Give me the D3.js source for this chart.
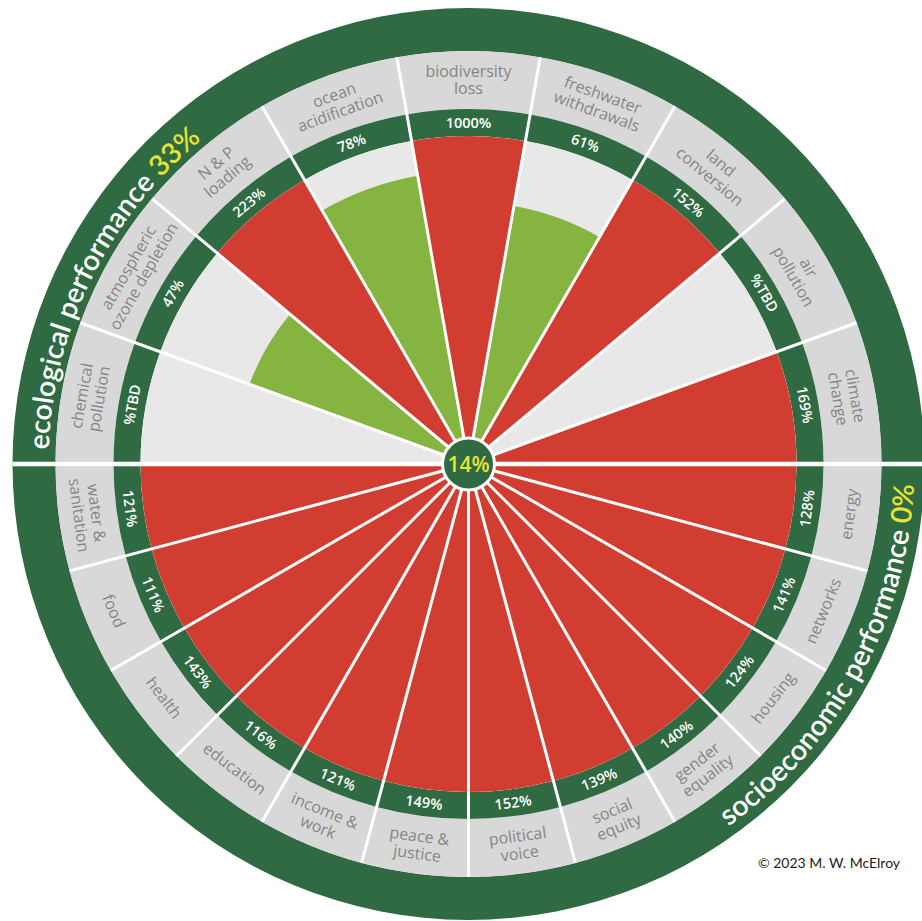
<!DOCTYPE html>
<html lang="en">
<head>
<meta charset="utf-8">
<title>Doughnut performance</title>
<script src="https://cdn.jsdelivr.net/npm/d3@7"></script>
<style>
  body { margin: 0; background: #fff; }
  svg { display: block; font-family: "Open Sans", sans-serif; }
</style>
</head>
<body>
<script>

// ecological ceiling, left to right across the top
var ecoCategories = ["chemical\npollution", "atmospheric\nozone depletion", "N & P\nloading", "ocean\nacidification",
                     "biodiversity\nloss", "freshwater\nwithdrawals", "land\nconversion", "air\npollution", "climate\nchange"];
var ecoValues = [null, 47, 223, 78, 1000, 61, 152, null, 169];   // null = %TBD

// social foundation, clockwise from the right
var socialCategories = ["energy", "networks", "housing", "gender\nequality", "social\nequity", "political\nvoice",
                        "peace &\njustice", "income &\nwork", "education", "health", "food", "water &\nsanitation"];
var socialValues = [128, 141, 124, 140, 139, 152, 149, 121, 116, 143, 111, 121];

var ecoTitle = "ecological performance", ecoScore = "33%";
var socialTitle = "socioeconomic performance", socialScore = "0%";
var overallScore = "14%";

var w = 922, h = 921, cx = 468.5, cy = 464;
var rCore = 26, rWedge = 328, rValue = 355, rLabel = 413, rOuter = 456;

var darkGreen = "#2f6a43", red = "#d13e31", lightGreen = "#85b441",
    bandGrey = "#d8d8d8", bgGrey = "#e8e8e8", labelGrey = "#858585", yellow = "#e9e334";

var svg = d3.select("body").append("svg").attr("width", w).attr("height", h);
var g = svg.append("g").attr("transform", "translate(" + cx + "," + cy + ")");

var rScale = d3.scaleSqrt().domain([0, 100]).range([rCore, rWedge]).clamp(true);
var ecoAngle = d3.scaleLinear().domain([0, ecoCategories.length]).range([-Math.PI / 2, Math.PI / 2]);
var socAngle = d3.scaleLinear().domain([0, socialCategories.length]).range([Math.PI / 2, 3 * Math.PI / 2]);

var eco = ecoCategories.map(function(c, i) {
  return {name: c, value: ecoValues[i], a0: ecoAngle(i), a1: ecoAngle(i + 1)};
});
var soc = socialCategories.map(function(c, i) {
  return {name: c, value: socialValues[i], a0: socAngle(i), a1: socAngle(i + 1)};
});
var segs = eco.concat(soc);

var arc = d3.arc();
function ring(d, r0, r1) {
  return arc({innerRadius: r0, outerRadius: r1, startAngle: d.a0, endAngle: d.a1});
}

// outer ring
g.append("path")
 .attr("d", arc({innerRadius: rLabel, outerRadius: rOuter, startAngle: 0, endAngle: 2 * Math.PI}))
 .attr("fill", darkGreen);

// label band, value band, background
g.selectAll("path.band").data(segs).enter().append("path")
 .attr("d", function(d) { return ring(d, rValue, rLabel); }).attr("fill", bandGrey);
g.selectAll("path.val").data(segs).enter().append("path")
 .attr("d", function(d) { return ring(d, rWedge, rValue); }).attr("fill", darkGreen);
g.selectAll("path.bg").data(segs).enter().append("path")
 .attr("d", function(d) { return ring(d, 0, rWedge); }).attr("fill", bgGrey);

// wedges
g.selectAll("path.wedge").data(segs.filter(function(d) { return d.value != null; })).enter().append("path")
 .attr("d", function(d) { return ring(d, 0, rScale(d.value)); })
 .attr("fill", function(d) { return d.value < 100 ? lightGreen : red; });

// separators
var bounds = d3.range(1, ecoCategories.length).map(ecoAngle)
  .concat(d3.range(1, socialCategories.length).map(socAngle));
g.selectAll("line.sep").data(bounds).enter().append("line")
 .attr("x1", 0).attr("y1", 0)
 .attr("x2", function(a) { return rLabel * Math.sin(a); })
 .attr("y2", function(a) { return -rLabel * Math.cos(a); })
 .attr("stroke", "#fff").attr("stroke-width", 3);
g.append("line")
 .attr("x1", -rOuter).attr("x2", rOuter).attr("y1", 0).attr("y2", 0)
 .attr("stroke", "#fff").attr("stroke-width", 4.5);

// centre
g.append("circle").attr("r", rCore).attr("fill", darkGreen).attr("stroke", "#fff").attr("stroke-width", 3);
g.append("text").attr("text-anchor", "middle").attr("dy", "0.36em")
 .attr("fill", yellow).style("font-size", "21px").style("font-weight", 600)
 .text(overallScore);

function placeAt(d, r) {
  var mid = (d.a0 + d.a1) / 2, deg = mid * 180 / Math.PI;
  var flip = Math.cos(mid) < 0 ? " rotate(180)" : "";
  return "rotate(" + deg + ") translate(0," + (-r) + ")" + flip;
}

// category labels
var labels = g.selectAll("text.label").data(segs).enter().append("text")
 .attr("transform", function(d) { return placeAt(d, (rValue + rLabel) / 2); })
 .attr("text-anchor", "middle")
 .attr("fill", labelGrey)
 .style("font-size", "16px");
labels.each(function(d) {
  var lines = d.name.split("\n");
  var t = d3.select(this);
  lines.forEach(function(l, i) {
    t.append("tspan").attr("x", 0)
     .attr("y", (i - (lines.length - 1) / 2) * 17.5)
     .attr("dy", "0.35em")
     .text(l);
  });
});

// value labels
g.selectAll("text.value").data(segs).enter().append("text")
 .attr("transform", function(d) { return placeAt(d, (rWedge + rValue) / 2); })
 .attr("text-anchor", "middle").attr("dy", "0.35em")
 .attr("fill", "#fff").style("font-size", "14.5px").style("font-weight", 600)
 .text(function(d) { return d.value == null ? "%TBD" : d.value + "%"; });

// titles around the ring
function arcPath(r, a0, a1, sweep) {
  var p0 = [r * Math.sin(a0), -r * Math.cos(a0)], p1 = [r * Math.sin(a1), -r * Math.cos(a1)];
  return "M" + p0 + "A" + r + "," + r + " 0 0 " + sweep + " " + p1;
}
var rad = Math.PI / 180;
var defs = svg.append("defs");
defs.append("path").attr("id", "ecoPath").attr("d", arcPath(420, -88 * rad, -39.5 * rad, 1));
defs.append("path").attr("id", "socPath").attr("d", arcPath(446, 145 * rad, 92 * rad, 0));

function ringTitle(id, title, score) {
  var tp = g.append("text").attr("fill", "#fff")
    .style("font-family", "Lato, sans-serif").style("font-size", "28.5px").style("font-weight", 600)
    .append("textPath").attr("href", "#" + id).attr("startOffset", "50%").attr("text-anchor", "middle");
  tp.append("tspan").text(title + " ");
  tp.append("tspan").attr("fill", yellow).text(score);
}
ringTitle("ecoPath", ecoTitle, ecoScore);
ringTitle("socPath", socialTitle, socialScore);

svg.append("text")
 .attr("x", 758).attr("y", 868)
 .attr("fill", "#222")
 .style("font-family", "Lato, sans-serif").style("font-size", "14px")
 .text("\u00a9 2023 M. W. McElroy");

</script>
</body>
</html>
